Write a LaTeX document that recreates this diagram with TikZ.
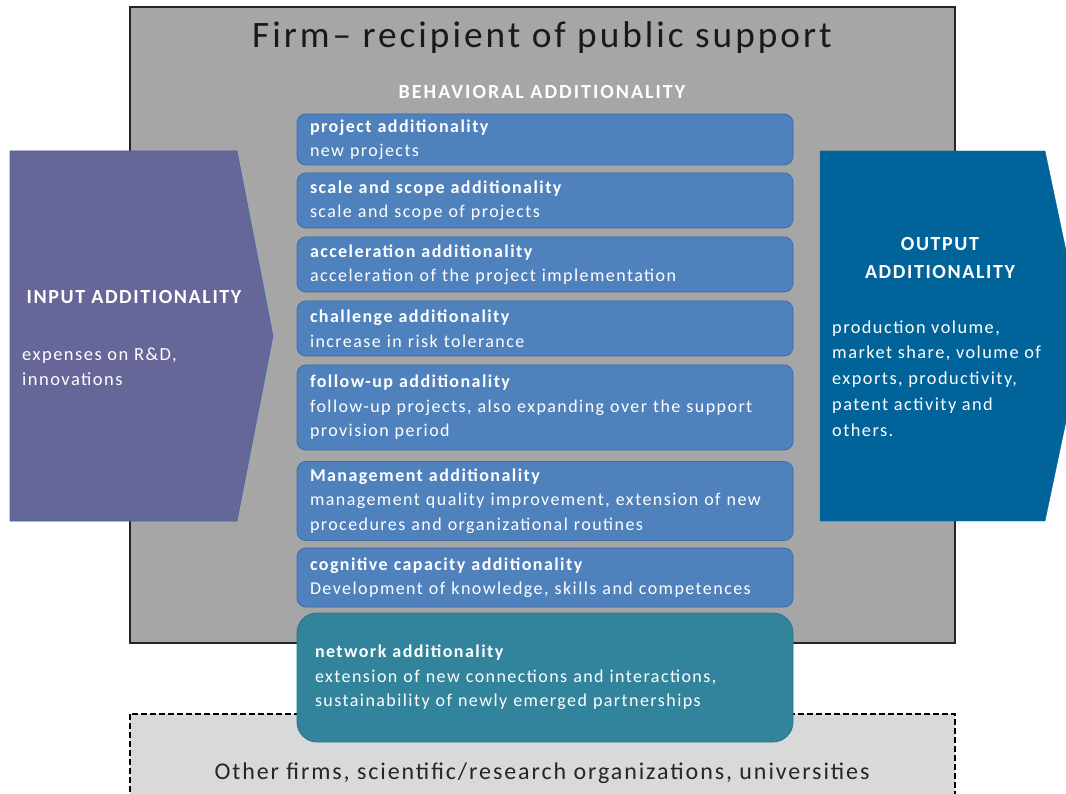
\documentclass[tikz,border=0pt]{standalone}
\usepackage{fontspec}
\setmainfont[LetterSpace=8]{Carlito}
\newfontfamily\widecaps[LetterSpace=10]{Carlito}
\definecolor{firmgray}{HTML}{A6A6A6}
\definecolor{partnergray}{HTML}{D9D9D9}
\definecolor{behblue}{HTML}{4F81BD}
\definecolor{behedge}{HTML}{3D6CA6}
\definecolor{inpurple}{HTML}{666699}
\definecolor{outblue}{HTML}{00639A}
\definecolor{netteal}{HTML}{31849B}
\definecolor{nettealedge}{HTML}{2A7389}
\begin{document}
\begin{tikzpicture}[x=1pt,y=-1pt,
  behbox/.style={draw=behedge, line width=0.8pt, fill=behblue, rounded corners=9pt,
    minimum width=496pt, text width=470pt, align=left, inner xsep=13pt, inner ysep=0pt,
    text=white, font=\fontsize{18}{24.5}\selectfont},
  arrowtext/.style={text=white, align=left, inner sep=0pt}]
\useasboundingbox (0,0) rectangle (1066,794);
\clip (0,0) rectangle (1066,794);

% firm frame and partner area
\draw[line width=1.2pt, draw=black!85, fill=firmgray] (130,7) rectangle (955,643);
\draw[line width=1.2pt, dash pattern=on 6pt off 3pt, fill=partnergray] (130,714) rectangle (955,820);
\node[font=\fontsize{37.3}{40}\selectfont, text=black!90] (title) at (542,38) {Firm– recipient of public support};
\node[font=\widecaps\bfseries\fontsize{20}{22}\selectfont, text=white] (beh) at (542,92) {BEHAVIORAL ADDITIONALITY};
\node[font=\fontsize{24}{28}\selectfont, text=black!85] (others) at (542,773) {Other firms, scientific/research organizations, universities};

% input and output chevrons
\draw[draw=behedge, line width=0.6pt, fill=inpurple] (10,151) -- (237,151) -- (273,336) -- (237,521) -- (10,521) -- cycle;
\draw[draw=outblue, fill=outblue] (820,151) -- (1045,151) -- (1084,336) -- (1045,521) -- (820,521) -- cycle;

\node[arrowtext, font=\bfseries\fontsize{20}{22}\selectfont] (inhead) at (134,297) {INPUT ADDITIONALITY};
\node[arrowtext, anchor=west, font=\fontsize{18.5}{25}\selectfont] (inbody) at (22,366.5) {expenses on R\&D,\\innovations};

\node[arrowtext, align=center, font=\bfseries\fontsize{20}{28}\selectfont] (outhead) at (940,258) {OUTPUT\\ADDITIONALITY};
\node[arrowtext, anchor=west, font=\fontsize{18.3}{25.8}\selectfont] (outbody) at (832,378.5)
  {production volume,\\market share, volume of\\exports, productivity,\\patent activity and\\others.};

% behavioral additionality boxes
\node[behbox, minimum height=51pt] (project) at (545,139.5)
  {\textbf{project additionality}\\new projects};
\node[behbox, minimum height=55pt] (scale) at (545,200.5)
  {\textbf{scale and scope additionality}\\scale and scope of projects};
\node[behbox, minimum height=55pt] (accel) at (545,264.5)
  {\textbf{acceleration additionality}\\acceleration of the project implementation};
\node[behbox, minimum height=55pt] (challenge) at (545,328.5)
  {\textbf{challenge additionality}\\increase in risk tolerance};
\node[behbox, minimum height=85pt] (follow) at (545,407.5)
  {\textbf{follow-up additionality}\\\mbox{follow-up projects, also expanding over the support}\\provision period};
\node[behbox, minimum height=79pt] (manage) at (545,501)
  {\textbf{Management additionality}\\\mbox{management quality improvement, extension of new}\\procedures and organizational routines};
\node[behbox, minimum height=59pt] (cognitive) at (545,577.5)
  {\textbf{cognitive capacity additionality}\\\mbox{Development of knowledge, skills and competences}};
\node[behbox, draw=nettealedge, fill=netteal, rounded corners=20pt, minimum height=129pt, inner xsep=18pt, text width=460pt] (network) at (545,677.5)
  {\textbf{network additionality}\\extension of new connections and interactions,\\sustainability of newly emerged partnerships};
\end{tikzpicture}
\end{document}
